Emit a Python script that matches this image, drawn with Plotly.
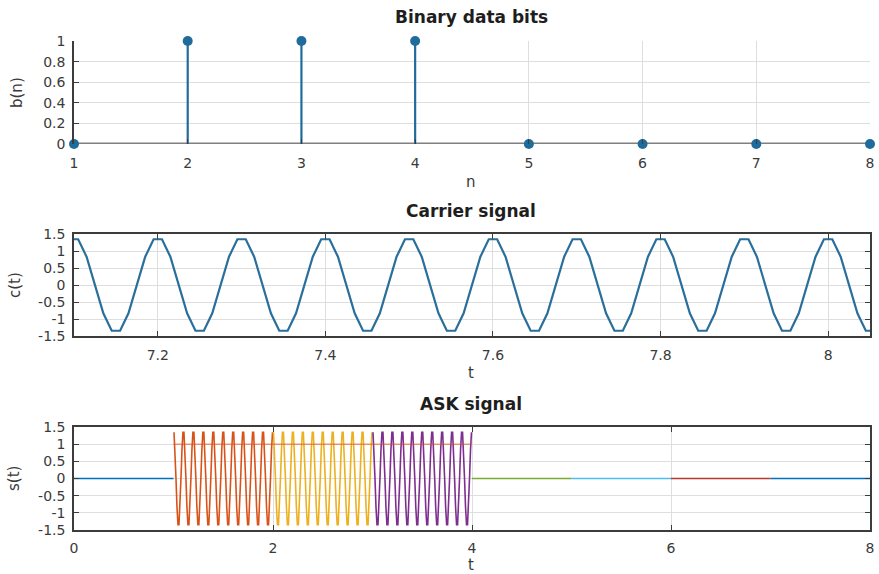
import plotly.graph_objects as go

W, H = 879, 574

# ---------------- data ----------------
n_idx = [1, 2, 3, 4, 5, 6, 7, 8]
bits = [0, 1, 1, 1, 0, 0, 0, 0]

carrier_cycle = [1.345, 0.831, 0.0, -0.831, -1.345, -1.345, -0.831, 0.0, 0.831, 1.345]
sample_dt = 0.01
carrier_t0 = 7.0          # carrier window start (samples start half a step later)
carrier_periods = 11      # periods shown in the carrier window

segment_colors = ["#0072BD", "#D95319", "#EDB120", "#7E2F8E",
                  "#77AC30", "#4DBEEE", "#B8382E", "#0072BD"]

top_yticks = [0, 0.2, 0.4, 0.6, 0.8, 1]
top_yticktext = ["0", "0.2", "0.4", "0.6", "0.8", "1"]
sig_yticks = [-1.5, -1, -0.5, 0, 0.5, 1, 1.5]
sig_yticktext = ["-1.5", "-1", "-0.5", "0", "0.5", "1", "1.5"]
mid_xticks = [7.2, 7.4, 7.6, 7.8, 8]
mid_xticktext = ["7.2", "7.4", "7.6", "7.8", "8"]
bot_xticks = [0, 2, 4, 6, 8]

# ---------------- helpers ----------------
def px_x(p):
    return p / W

def px_y(p):
    return 1 - p / H

XDOM = [px_x(74), px_x(870)]
TOP_DOM = [px_y(144), px_y(41)]
MID_DOM = [px_y(336), px_y(234)]
BOT_DOM = [px_y(530), px_y(427)]

STEM = "#1f6c9c"
GRID = "#dedede"
AXC = "#3c3c3c"
TICKF = dict(family="DejaVu Sans", size=14, color="#3a3a3a")

fig = go.Figure()

# ---- stem plot ----
sx, sy = [], []
for n, b in zip(n_idx, bits):
    sx += [n, n, None]
    sy += [0, b, None]
fig.add_trace(go.Scatter(x=sx, y=sy, mode="lines", line=dict(color=STEM, width=2.2),
                         xaxis="x", yaxis="y", showlegend=False, cliponaxis=False))
fig.add_trace(go.Scatter(x=n_idx, y=bits, mode="markers",
                         marker=dict(color=STEM, size=10), xaxis="x", yaxis="y",
                         showlegend=False, cliponaxis=False))

# ---- carrier ----
ct, cv = [], []
for p in range(carrier_periods):
    for k, v in enumerate(carrier_cycle):
        ct.append(carrier_t0 + (p * len(carrier_cycle) + k + 0.5) * sample_dt)
        cv.append(v)
fig.add_trace(go.Scatter(x=ct, y=cv, mode="lines", line=dict(color="#2a6f9c", width=2.2),
                         xaxis="x2", yaxis="y2", showlegend=False))

# ---- ASK ----
nper = int(round(1 / (sample_dt * len(carrier_cycle))))
for i, (n, b) in enumerate(zip(n_idx, bits)):
    tt, ss = [], []
    if b == 0:
        tt = [n - 1, n]
        ss = [0, 0]
    else:
        for p in range(nper):
            for k, v in enumerate(carrier_cycle):
                tt.append(n - 1 + (p * len(carrier_cycle) + k + 0.5) * sample_dt)
                ss.append(b * v)
    fig.add_trace(go.Scatter(x=tt, y=ss, mode="lines",
                             line=dict(color=segment_colors[i], width=1.6),
                             xaxis="x3", yaxis="y3", showlegend=False))

# bit-level line at amplitude 1
lx, ly = [], []
for n, b in zip(n_idx, bits):
    if b == 1:
        lx += [n - 1, n, None]
        ly += [b, b, None]
fig.add_trace(go.Scatter(x=lx, y=ly, mode="lines", line=dict(color="#D95319", width=1),
                         opacity=0.8, xaxis="x3", yaxis="y3", showlegend=False))

# ---------------- axes ----------------
common_x = dict(domain=XDOM, tickfont=TICKF, gridcolor=GRID, gridwidth=1, showgrid=True,
                zeroline=False, ticks="inside", ticklen=5, tickcolor=AXC, automargin=False)
common_y = dict(tickfont=TICKF, gridcolor=GRID, gridwidth=1, showgrid=True,
                zeroline=False, ticks="inside", ticklen=5, tickcolor=AXC, automargin=False,
                ticklabelstandoff=4)

fig.update_layout(
    width=W, height=H, autosize=False,
    margin=dict(l=0, r=0, t=0, b=0),
    paper_bgcolor="white", plot_bgcolor="white",
    xaxis=dict(**common_x, anchor="y", range=[1, 8], tickvals=n_idx,
               ticktext=[str(v) for v in n_idx], showline=False, ticklabelstandoff=9),
    yaxis=dict(**common_y, domain=TOP_DOM, anchor="x", range=[0, 1],
               tickvals=top_yticks, ticktext=top_yticktext,
               showline=True, linecolor=AXC, linewidth=1.5),
    xaxis2=dict(**common_x, anchor="y2", range=[7.1, 8.05], tickvals=mid_xticks,
                ticktext=mid_xticktext, showline=True, mirror="ticks",
                linecolor=AXC, linewidth=1.5, ticklabelstandoff=5),
    yaxis2=dict(**common_y, domain=MID_DOM, anchor="x2", range=[-1.5, 1.5],
                tickvals=sig_yticks, ticktext=sig_yticktext, showline=True,
                mirror="ticks", linecolor=AXC, linewidth=1.5),
    xaxis3=dict(**common_x, anchor="y3", range=[0, 8], tickvals=bot_xticks,
                ticktext=[str(v) for v in bot_xticks], showline=True, mirror="ticks",
                linecolor=AXC, linewidth=1.5, ticklabelstandoff=4),
    yaxis3=dict(**common_y, domain=BOT_DOM, anchor="x3", range=[-1.5, 1.5],
                tickvals=sig_yticks, ticktext=sig_yticktext, showline=True,
                mirror="ticks", linecolor=AXC, linewidth=1.5),
)

# stem baseline
fig.add_shape(type="line", xref="x", yref="y", x0=1, x1=8, y0=0, y1=0,
              line=dict(color="#808080", width=3), layer="below")

# ---------------- text ----------------
def ann(text, x, y, size=15, bold=False, angle=0, color="#333333"):
    fig.add_annotation(text=f"<b>{text}</b>" if bold else text,
                       x=px_x(x), y=px_y(y), xref="paper", yref="paper",
                       xanchor="center", yanchor="middle", showarrow=False,
                       textangle=angle,
                       font=dict(family="DejaVu Sans", size=size, color=color))

ann("Binary data bits", 471, 17, size=17, bold=True, color="#1e1e1e")
ann("Carrier signal", 471, 211, size=17, bold=True, color="#1e1e1e")
ann("ASK signal", 471, 404, size=17, bold=True, color="#1e1e1e")
ann("n", 471, 182, color="#3a3a3a")
ann("t", 471, 373, color="#3a3a3a")
ann("t", 471, 565, color="#3a3a3a")
ann("b(n)", 17, 93, angle=-90, color="#3a3a3a")
ann("c(t)", 15, 285, angle=-90, color="#3a3a3a")
ann("s(t)", 14, 478, angle=-90, color="#3a3a3a")

fig.write_html("out.html")
